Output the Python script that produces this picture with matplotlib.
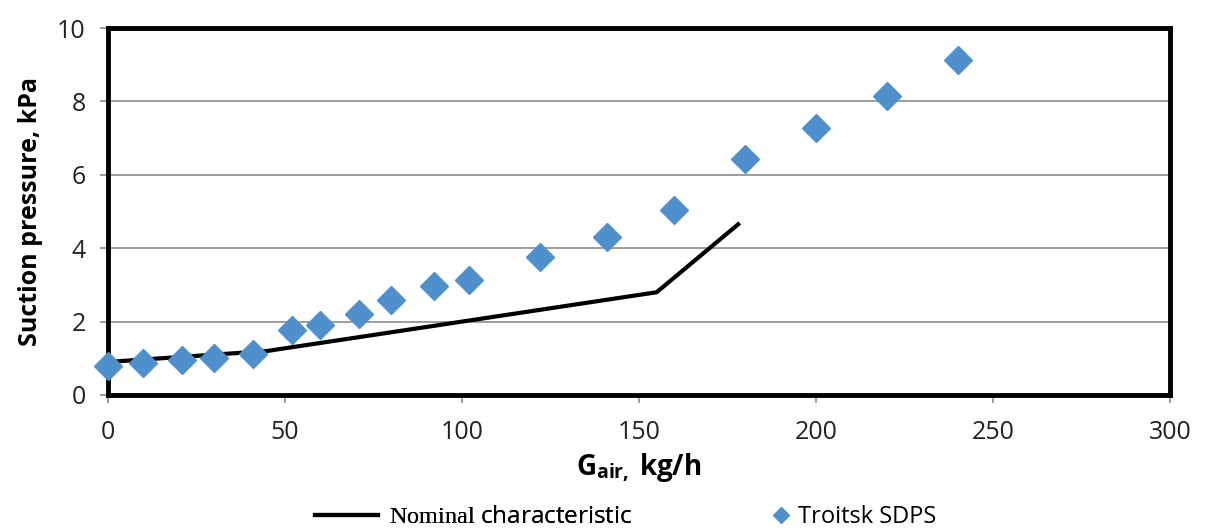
import matplotlib
matplotlib.use("Agg")
import matplotlib.pyplot as plt

plt.rcParams["font.family"] = ["Open Sans", "DejaVu Sans"]
plt.rcParams["mathtext.fontset"] = "custom"
plt.rcParams["mathtext.rm"] = "Liberation Serif"
plt.rcParams["mathtext.it"] = "Liberation Serif:italic"
plt.rcParams["mathtext.bf"] = "Open Sans:bold"

# nominal characteristic (line)
nominal_g = [0, 45, 155, 178]
nominal_p = [0.9, 1.2, 2.8, 4.65]

# Troitsk SDPS measurements (diamonds)
troitsk_g = [0, 10, 21, 30, 41, 52, 60, 71, 80, 92, 102, 122, 141, 160, 180, 200, 220, 240]
troitsk_p = [0.79, 0.86, 0.96, 1.02, 1.12, 1.76, 1.9, 2.2, 2.58, 2.96, 3.12, 3.77, 4.3, 5.05, 6.42, 7.27, 8.15, 9.12]

fig = plt.figure(figsize=(12.1, 5.32), dpi=100)
ax = fig.add_axes([108 / 1210, 1 - 395 / 532, (1170 - 108) / 1210, (395 - 28) / 532])

line, = ax.plot(nominal_g, nominal_p, color="black", lw=3, zorder=3)
pts, = ax.plot(troitsk_g, troitsk_p, ls="none", marker="D", ms=14, color="#4f8fcc",
               mec="#4f8fcc", zorder=4, clip_on=False)

ax.set_xlim(0, 300)
ax.set_ylim(0, 10)
ax.set_xticks(range(0, 301, 50))
ax.set_yticks(range(0, 11, 2))
ax.yaxis.grid(True, color="#8c8c8c", lw=1.2)
ax.set_axisbelow(True)

for s in ax.spines.values():
    s.set_linewidth(3.5)
    s.set_color("black")

ax.tick_params(axis="both", colors="#8c8c8c", labelcolor="#222222", labelsize=18,
               length=6, width=1.2)
ax.tick_params(axis="x", pad=12)
ax.tick_params(axis="y", pad=10)

ax.set_ylabel("Suction pressure, kPa", fontsize=18, fontweight="bold", labelpad=10)
ax.set_xlabel(r"G$_{\mathbf{air,}}$ kg/h", fontsize=20, fontweight="bold", labelpad=4)

leg1 = fig.legend([line], [r"$\mathrm{Nominal}$ characteristic"], loc="center left",
                  bbox_to_anchor=(293 / 1210, 0.028), frameon=False, fontsize=17.5,
                  handlelength=2.6, handletextpad=0.45)
fig.legend([pts], ["Troitsk SDPS"], loc="center left",
           bbox_to_anchor=(750 / 1210, 0.028), frameon=False, fontsize=17,
           handlelength=0.8, handletextpad=0.35, markerscale=0.6)
fig.add_artist(leg1)

fig.savefig("out.png", dpi=100)
